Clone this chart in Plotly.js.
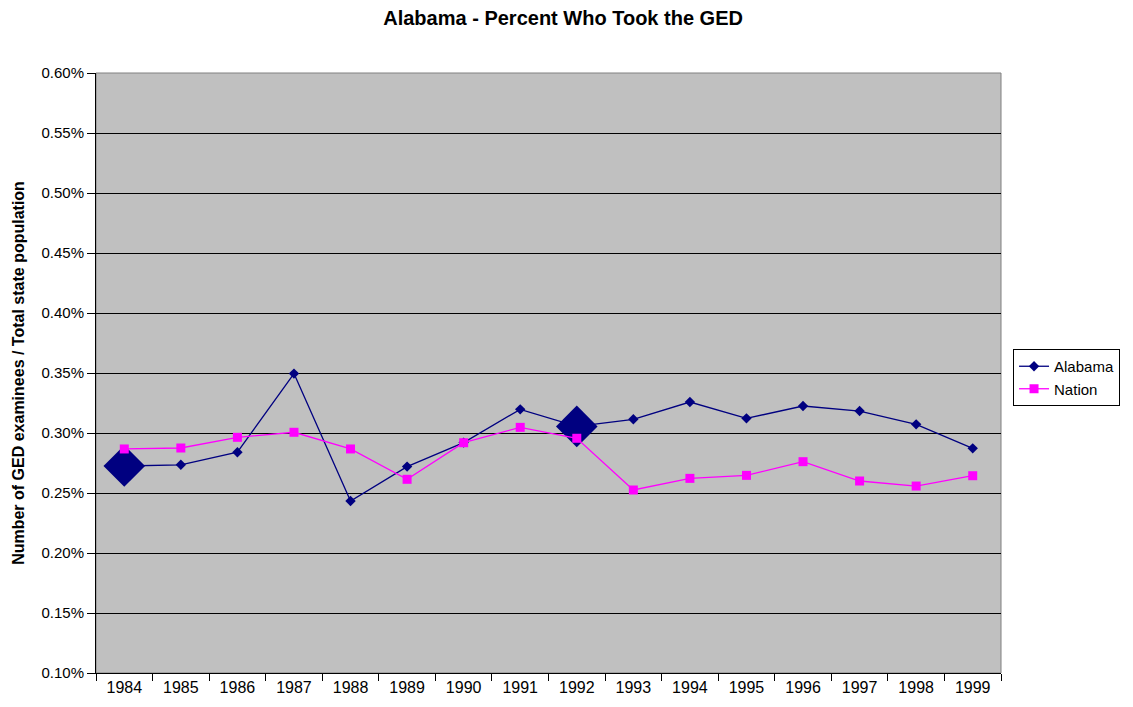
<!DOCTYPE html>
<html>
<head>
<meta charset="utf-8">
<script src="https://cdn.plot.ly/plotly-3.0.1.min.js"></script>
<style>html,body{margin:0;padding:0;background:#fff;}#chart{width:1133px;height:707px;}</style>
</head>
<body>
<div id="chart"></div>
<script>
const years = ['1984','1985','1986','1987','1988','1989','1990','1991','1992','1993','1994','1995','1996','1997','1998','1999'];
const alabama = [0.2725,0.2735,0.2840,0.3495,0.2433,0.2720,0.2920,0.3197,0.3055,0.3114,0.3258,0.3122,0.3225,0.3183,0.3072,0.2872];
const nation  = [0.2867,0.2875,0.2964,0.3006,0.2867,0.2614,0.2919,0.3047,0.2956,0.2525,0.2622,0.2647,0.2761,0.2600,0.2558,0.2644];
const highlightYears = ['1984','1992'];

const hx = highlightYears;
const hy = highlightYears.map(y => alabama[years.indexOf(y)]);

const font = 'Arial, "Liberation Sans", sans-serif';

const traces = [
  {x: years, y: alabama, name: 'Alabama', type: 'scatter', mode: 'lines+markers',
   line: {color: '#000080', width: 1.3}, marker: {symbol: 'diamond', size: 8, color: '#000080'}},
  {x: hx, y: hy, name: 'Alabama', type: 'scatter', mode: 'markers', showlegend: false,
   marker: {symbol: 'diamond', size: 32, color: '#000080'}},
  {x: years, y: nation, name: 'Nation', type: 'scatter', mode: 'lines+markers',
   line: {color: '#FF00FF', width: 1.3}, marker: {symbol: 'square', size: 9, color: '#FF00FF'}}
];

const layout = {
  width: 1133, height: 707,
  margin: {l: 96, r: 132, t: 73, b: 34},
  paper_bgcolor: '#ffffff', plot_bgcolor: '#C0C0C0',
  font: {family: font, size: 15, color: '#000'},
  title: {text: '<b>Alabama - Percent Who Took the GED</b>', font: {family: font, size: 20, color: '#000'},
          xref: 'container', x: 0.497, xanchor: 'center', yref: 'container', y: 0.975, yanchor: 'middle'},
  xaxis: {type: 'category', range: [-0.5, 15.5], tickson: 'boundaries', ticks: 'outside', ticklen: 7, tickcolor: '#000',
          showline: true, linecolor: '#000', linewidth: 1, showgrid: false, zeroline: false,
          tickfont: {family: font, size: 16, color: '#000'}, fixedrange: true},
  yaxis: {range: [0.10, 0.60], dtick: 0.05, tickformat: '.2f', ticksuffix: '%',
          ticks: 'outside', ticklen: 8, tickcolor: '#000', showline: true, linecolor: '#000', linewidth: 1,
          showgrid: true, gridcolor: '#000', gridwidth: 1, zeroline: false,
          tickfont: {family: font, size: 15, color: '#000'},
          title: {text: '<b>Number of GED examinees / Total state population</b>', font: {family: font, size: 16, color: '#000'}, standoff: 12}},
  legend: {x: 1.0133, y: 0.54, xanchor: 'left', yanchor: 'top', bgcolor: '#ffffff', bordercolor: '#000', borderwidth: 1,
           font: {family: font, size: 15, color: '#000'}, tracegroupgap: 0, itemwidth: 30},
  shapes: [{type: 'rect', xref: 'paper', yref: 'paper', x0: 0, x1: 1, y0: 0, y1: 1,
            line: {color: '#808080', width: 1}, layer: 'below'}],
  showlegend: true
};

Plotly.newPlot('chart', traces, layout, {displayModeBar: false, staticPlot: true});
</script>
</body>
</html>
